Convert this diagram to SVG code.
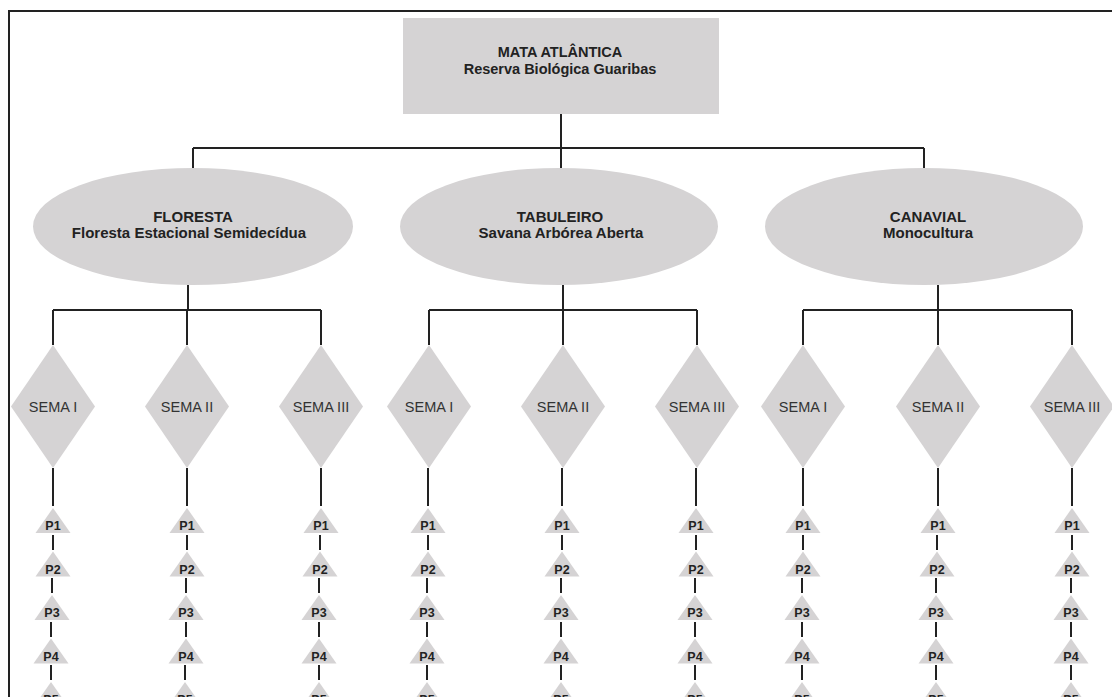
<svg xmlns="http://www.w3.org/2000/svg" width="1112" height="697" viewBox="0 0 1112 697">
<style>
.shape{fill:#d5d3d4;stroke:none}
.ln{stroke:#222;stroke-width:2;fill:none}
.t{font-family:"Liberation Sans",Arial,sans-serif;font-weight:bold;font-size:14.5px;fill:#222;text-anchor:middle}
.e{font-family:"Liberation Sans",Arial,sans-serif;font-weight:bold;font-size:15px;fill:#222;text-anchor:middle}
.s{font-family:"Liberation Sans",Arial,sans-serif;font-size:14.5px;fill:#333;text-anchor:middle}
.p{font-family:"Liberation Sans",Arial,sans-serif;font-weight:bold;font-size:12.5px;fill:#222;text-anchor:middle}
</style>
<defs>
<polygon id="tri" points="0,0 17.5,25 -17.5,25" class="shape"/>
<polygon id="dia" points="0,0 42,61.5 0,123 -42,61.5" class="shape"/>
</defs>
<rect width="1112" height="697" fill="#fff"/>
<path class="ln" d="M9,697 V11 H1112" stroke-width="2.5"/>
<g id="connectors">
<path class="ln" d="M561,114 V168 M193,148 H924 M193,148 V168 M924,148 V168"/>
<path class="ln" d="M188,285 V310 M53,310 H321 M53,310 V345 M187,310 V345 M321,310 V345"/>
<path class="ln" d="M563,285 V310 M429,310 H697 M429,310 V345 M563,310 V345 M697,310 V345"/>
<path class="ln" d="M938,285 V310 M803,310 H1072 M803,310 V345 M938,310 V345 M1072,310 V345"/>
<path class="ln" d="M53,468 V506 M53,535 V550 M52,578 V593 M51,622 V637 M51,665 V680"/>
<path class="ln" d="M187,468 V506 M187,535 V550 M186,578 V593 M186,622 V637 M185,665 V680"/>
<path class="ln" d="M321,468 V506 M320,535 V550 M319,578 V593 M319,622 V637 M319,665 V680"/>
<path class="ln" d="M428,468 V506 M428,535 V550 M427,578 V593 M427,622 V637 M427,665 V680"/>
<path class="ln" d="M562,468 V506 M562,535 V550 M561,578 V593 M561,622 V637 M561,665 V680"/>
<path class="ln" d="M696,468 V506 M696,535 V550 M695,578 V593 M695,622 V637 M695,665 V680"/>
<path class="ln" d="M803,468 V506 M803,535 V550 M802,578 V593 M802,622 V637 M802,665 V680"/>
<path class="ln" d="M938,468 V506 M937,535 V550 M936,578 V593 M936,622 V637 M936,665 V680"/>
<path class="ln" d="M1072,468 V506 M1072,535 V550 M1071,578 V593 M1071,622 V637 M1071,665 V680"/>
</g>
<g id="mata">
<rect class="shape" x="403" y="18" width="316" height="96"/>
<text class="t" x="560" y="57">MATA ATLÂNTICA</text>
<text class="t" x="560" y="74">Reserva Biológica Guaribas</text>
</g>
<g id="floresta">
<ellipse class="shape" cx="193" cy="226.5" rx="160" ry="58.5"/>
<text class="e" x="193" y="222">FLORESTA</text>
<text class="e" x="189" y="237.5">Floresta Estacional Semidecídua</text>
</g>
<g id="tabuleiro">
<ellipse class="shape" cx="559" cy="226.5" rx="159" ry="58.5"/>
<text class="e" x="560" y="222">TABULEIRO</text>
<text class="e" x="561" y="237.5">Savana Arbórea Aberta</text>
</g>
<g id="canavial">
<ellipse class="shape" cx="924" cy="226.5" rx="159" ry="58.5"/>
<text class="e" x="928" y="222">CANAVIAL</text>
<text class="e" x="928" y="237.5">Monocultura</text>
</g>
<g id="sema-f1"><use href="#dia" x="53" y="345"/><text class="s" x="53" y="412">SEMA I</text></g>
<g id="sema-f2"><use href="#dia" x="187" y="345"/><text class="s" x="187" y="412">SEMA II</text></g>
<g id="sema-f3"><use href="#dia" x="321" y="345"/><text class="s" x="321" y="412">SEMA III</text></g>
<g id="sema-t1"><use href="#dia" x="429" y="345"/><text class="s" x="429" y="412">SEMA I</text></g>
<g id="sema-t2"><use href="#dia" x="563" y="345"/><text class="s" x="563" y="412">SEMA II</text></g>
<g id="sema-t3"><use href="#dia" x="697" y="345"/><text class="s" x="697" y="412">SEMA III</text></g>
<g id="sema-c1"><use href="#dia" x="803" y="345"/><text class="s" x="803" y="412">SEMA I</text></g>
<g id="sema-c2"><use href="#dia" x="938" y="345"/><text class="s" x="938" y="412">SEMA II</text></g>
<g id="sema-c3"><use href="#dia" x="1072" y="345"/><text class="s" x="1072" y="412">SEMA III</text></g>
<g id="plots-f1"><use href="#tri" x="53" y="508"/><text class="p" x="53" y="530">P1</text><use href="#tri" x="53" y="551.5"/><text class="p" x="53" y="573.5">P2</text><use href="#tri" x="52" y="595"/><text class="p" x="52" y="617">P3</text><use href="#tri" x="51" y="638.5"/><text class="p" x="51" y="660.5">P4</text><use href="#tri" x="51" y="682"/><text class="p" x="51" y="704">P5</text></g>
<g id="plots-f2"><use href="#tri" x="187" y="508"/><text class="p" x="187" y="530">P1</text><use href="#tri" x="187" y="551.5"/><text class="p" x="187" y="573.5">P2</text><use href="#tri" x="186" y="595"/><text class="p" x="186" y="617">P3</text><use href="#tri" x="186" y="638.5"/><text class="p" x="186" y="660.5">P4</text><use href="#tri" x="185" y="682"/><text class="p" x="185" y="704">P5</text></g>
<g id="plots-f3"><use href="#tri" x="321" y="508"/><text class="p" x="321" y="530">P1</text><use href="#tri" x="320" y="551.5"/><text class="p" x="320" y="573.5">P2</text><use href="#tri" x="319" y="595"/><text class="p" x="319" y="617">P3</text><use href="#tri" x="319" y="638.5"/><text class="p" x="319" y="660.5">P4</text><use href="#tri" x="319" y="682"/><text class="p" x="319" y="704">P5</text></g>
<g id="plots-t1"><use href="#tri" x="428" y="508"/><text class="p" x="428" y="530">P1</text><use href="#tri" x="428" y="551.5"/><text class="p" x="428" y="573.5">P2</text><use href="#tri" x="427" y="595"/><text class="p" x="427" y="617">P3</text><use href="#tri" x="427" y="638.5"/><text class="p" x="427" y="660.5">P4</text><use href="#tri" x="427" y="682"/><text class="p" x="427" y="704">P5</text></g>
<g id="plots-t2"><use href="#tri" x="562" y="508"/><text class="p" x="562" y="530">P1</text><use href="#tri" x="562" y="551.5"/><text class="p" x="562" y="573.5">P2</text><use href="#tri" x="561" y="595"/><text class="p" x="561" y="617">P3</text><use href="#tri" x="561" y="638.5"/><text class="p" x="561" y="660.5">P4</text><use href="#tri" x="561" y="682"/><text class="p" x="561" y="704">P5</text></g>
<g id="plots-t3"><use href="#tri" x="696" y="508"/><text class="p" x="696" y="530">P1</text><use href="#tri" x="696" y="551.5"/><text class="p" x="696" y="573.5">P2</text><use href="#tri" x="695" y="595"/><text class="p" x="695" y="617">P3</text><use href="#tri" x="695" y="638.5"/><text class="p" x="695" y="660.5">P4</text><use href="#tri" x="695" y="682"/><text class="p" x="695" y="704">P5</text></g>
<g id="plots-c1"><use href="#tri" x="803" y="508"/><text class="p" x="803" y="530">P1</text><use href="#tri" x="803" y="551.5"/><text class="p" x="803" y="573.5">P2</text><use href="#tri" x="802" y="595"/><text class="p" x="802" y="617">P3</text><use href="#tri" x="802" y="638.5"/><text class="p" x="802" y="660.5">P4</text><use href="#tri" x="802" y="682"/><text class="p" x="802" y="704">P5</text></g>
<g id="plots-c2"><use href="#tri" x="938" y="508"/><text class="p" x="938" y="530">P1</text><use href="#tri" x="937" y="551.5"/><text class="p" x="937" y="573.5">P2</text><use href="#tri" x="936" y="595"/><text class="p" x="936" y="617">P3</text><use href="#tri" x="936" y="638.5"/><text class="p" x="936" y="660.5">P4</text><use href="#tri" x="936" y="682"/><text class="p" x="936" y="704">P5</text></g>
<g id="plots-c3"><use href="#tri" x="1072" y="508"/><text class="p" x="1072" y="530">P1</text><use href="#tri" x="1072" y="551.5"/><text class="p" x="1072" y="573.5">P2</text><use href="#tri" x="1071" y="595"/><text class="p" x="1071" y="617">P3</text><use href="#tri" x="1071" y="638.5"/><text class="p" x="1071" y="660.5">P4</text><use href="#tri" x="1071" y="682"/><text class="p" x="1071" y="704">P5</text></g>
</svg>
